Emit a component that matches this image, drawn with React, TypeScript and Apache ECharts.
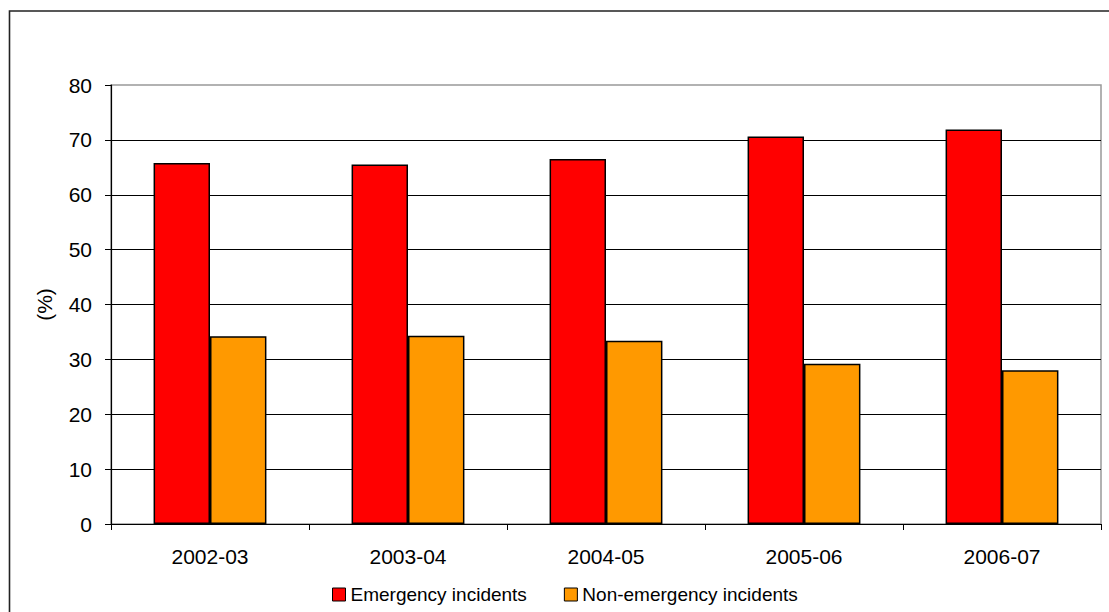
import React, { useEffect, useRef } from "react";
import * as echarts from "echarts";

// Share of incidents by type, per financial year (%)
const years = ["2002-03", "2003-04", "2004-05", "2005-06", "2006-07"];
const emergency = [65.8, 65.5, 66.5, 70.6, 71.9];
const nonEmergency = [34.2, 34.3, 33.4, 29.2, 28.0];
const yTicks = { min: 0, max: 80, interval: 10 };

const FONT = "'Liberation Sans', Arial, Helvetica, sans-serif";

export default function App() {
  const ref = useRef<HTMLDivElement>(null);

  useEffect(() => {
    if (!ref.current) return;
    const chart = echarts.init(ref.current, null, { renderer: "svg" });
    chart.setOption({
      animation: false,
      backgroundColor: "#ffffff",
      textStyle: { fontFamily: FONT, color: "#000" },
      graphic: [
        {
          type: "rect",
          shape: { x: 9.5, y: 11, width: 1300, height: 800 },
          style: { fill: "none", stroke: "#222", lineWidth: 1.6 },
          silent: true,
          z: 100,
        },
      ],
      grid: {
        left: 111,
        top: 85,
        right: 8,
        bottom: 88,
        show: true,
        borderColor: "#999",
        borderWidth: 1.5,
        backgroundColor: "transparent",
      },
      legend: {
        left: 332,
        top: 585,
        padding: 0,
        icon: "rect",
        itemWidth: 13,
        itemHeight: 13,
        itemGap: 37,
        textStyle: { fontFamily: FONT, fontSize: 19, color: "#000" },
        itemStyle: { borderColor: "#000", borderWidth: 1 },
        data: ["Emergency incidents", "Non-emergency incidents"],
      },
      xAxis: {
        type: "category",
        data: years,
        axisLine: { lineStyle: { color: "#000", width: 1.2 } },
        axisTick: { show: true, length: 6, lineStyle: { color: "#000" } },
        axisLabel: { fontFamily: FONT, fontSize: 21, color: "#000", margin: 22 },
      },
      yAxis: {
        type: "value",
        min: yTicks.min,
        max: yTicks.max,
        interval: yTicks.interval,
        name: "(%)",
        nameLocation: "middle",
        nameRotate: 90,
        nameGap: 56,
        nameTextStyle: { fontFamily: FONT, fontSize: 21, color: "#000" },
        axisLine: { show: true, lineStyle: { color: "#000", width: 1.2 } },
        axisTick: { show: true, length: 6, lineStyle: { color: "#000" } },
        axisLabel: { fontFamily: FONT, fontSize: 21, color: "#000", margin: 19 },
        splitLine: {
          show: true,
          showMaxLine: false,
          lineStyle: { color: "#000", width: 1.2 },
        },
      },
      series: [
        {
          name: "Emergency incidents",
          type: "bar",
          data: emergency,
          barGap: "0%",
          barCategoryGap: "43%",
          itemStyle: { color: "#ff0000", borderColor: "#000", borderWidth: 1.5 },
        },
        {
          name: "Non-emergency incidents",
          type: "bar",
          data: nonEmergency,
          itemStyle: { color: "#ff9900", borderColor: "#000", borderWidth: 1.5 },
        },
      ],
    });
    return () => chart.dispose();
  }, []);

  return (
    <div
      ref={ref}
      style={{ position: "fixed", left: 0, top: 0, width: 1109, height: 612 }}
    />
  );
}
